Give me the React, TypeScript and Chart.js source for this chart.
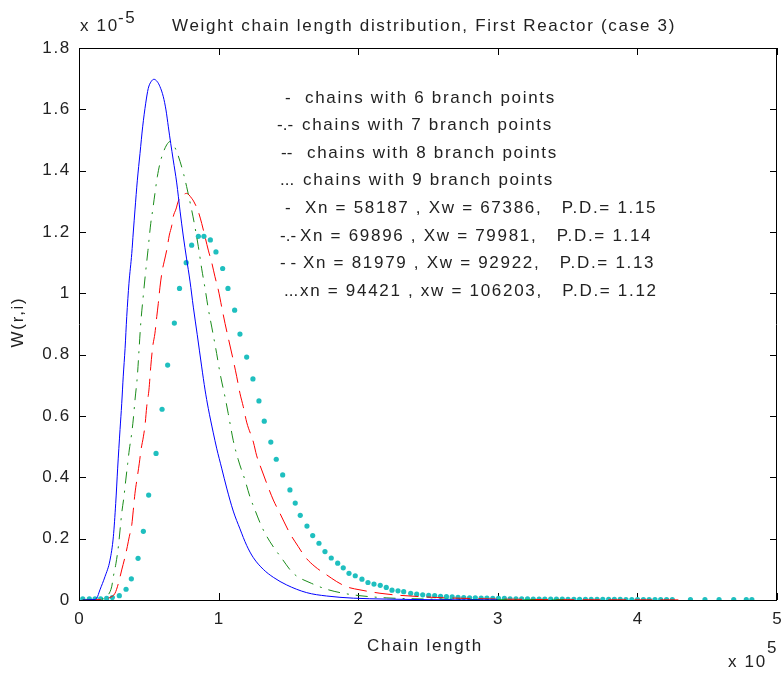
import React, { useEffect, useRef } from "react";
import { Chart, registerables } from "chart.js";

Chart.register(...registerables);

// X in units of 1e5 (chain length), Y in units of 1e-5 (W(r,i))
const series6: [number, number][] = [
  [0.027, 0], [0.1, 0.001], [0.127, 0.006], [0.15, 0.033], [0.186, 0.076], [0.222, 0.13],
  [0.246, 0.206], [0.263, 0.315], [0.277, 0.43], [0.294, 0.556], [0.306, 0.64], [0.317, 0.73],
  [0.33, 0.82], [0.342, 0.924], [0.358, 1.033], [0.378, 1.13], [0.389, 1.2], [0.401, 1.272],
  [0.418, 1.369], [0.437, 1.456], [0.456, 1.543], [0.478, 1.62], [0.496, 1.668], [0.516, 1.69],
  [0.537, 1.698], [0.561, 1.69], [0.58, 1.674], [0.604, 1.641], [0.623, 1.598], [0.64, 1.543],
  [0.657, 1.489], [0.675, 1.435], [0.7, 1.36], [0.724, 1.268], [0.747, 1.187], [0.77, 1.115],
  [0.795, 1.04], [0.819, 0.955], [0.847, 0.865], [0.879, 0.76], [0.903, 0.685], [0.926, 0.625],
  [0.962, 0.545], [0.986, 0.495], [1.022, 0.43], [1.058, 0.365], [1.105, 0.29], [1.153, 0.232],
  [1.201, 0.178], [1.249, 0.138], [1.32, 0.1], [1.392, 0.074], [1.488, 0.049], [1.631, 0.024],
  [1.774, 0.013], [1.965, 0.006], [2.2, 0.003], [2.5, 0.001], [3.0, 0.0003],
];

const series7: [number, number][] = [
  [0.027, 0], [0.15, 0.002], [0.2, 0.012], [0.234, 0.043], [0.246, 0.076], [0.265, 0.12],
  [0.282, 0.174], [0.294, 0.228], [0.306, 0.283], [0.322, 0.337], [0.335, 0.391], [0.349, 0.446],
  [0.36, 0.489], [0.378, 0.545], [0.389, 0.59], [0.401, 0.652], [0.418, 0.73], [0.43, 0.815],
  [0.442, 0.9], [0.461, 0.995], [0.475, 1.06], [0.494, 1.14], [0.514, 1.228], [0.528, 1.272],
  [0.544, 1.326], [0.561, 1.38], [0.58, 1.424], [0.6, 1.455], [0.628, 1.484], [0.652, 1.495],
  [0.676, 1.485], [0.7, 1.462], [0.724, 1.43], [0.749, 1.39], [0.771, 1.348], [0.807, 1.272],
  [0.826, 1.228], [0.855, 1.152], [0.879, 1.08], [0.903, 1.016], [0.926, 0.95], [0.951, 0.89],
  [0.986, 0.804], [1.01, 0.74], [1.046, 0.662], [1.069, 0.608], [1.105, 0.52], [1.141, 0.457],
  [1.189, 0.391], [1.225, 0.336], [1.261, 0.293], [1.309, 0.239], [1.368, 0.19], [1.452, 0.136],
  [1.535, 0.087], [1.667, 0.054], [1.774, 0.035], [1.893, 0.022], [2.013, 0.014], [2.2, 0.007],
  [2.4, 0.004], [2.7, 0.002], [3.0, 0.001], [3.5, 0.0003],
];

const series8: [number, number][] = [
  [0.027, 0], [0.17, 0.002], [0.22, 0.008], [0.258, 0.022], [0.282, 0.054], [0.306, 0.098],
  [0.33, 0.141], [0.346, 0.174], [0.36, 0.206], [0.378, 0.245], [0.389, 0.293], [0.401, 0.348],
  [0.418, 0.402], [0.432, 0.446], [0.444, 0.489], [0.461, 0.532], [0.473, 0.57], [0.485, 0.63],
  [0.501, 0.685], [0.514, 0.761], [0.528, 0.826], [0.544, 0.87], [0.557, 0.924], [0.568, 0.967],
  [0.58, 1.02], [0.597, 1.076], [0.611, 1.105], [0.628, 1.14], [0.647, 1.19], [0.664, 1.22],
  [0.675, 1.25], [0.695, 1.275], [0.711, 1.3], [0.736, 1.316], [0.771, 1.326], [0.807, 1.31],
  [0.824, 1.298], [0.855, 1.266], [0.879, 1.228], [0.903, 1.184], [0.926, 1.141], [0.951, 1.1],
  [0.974, 1.054], [0.998, 1.011], [1.022, 0.956], [1.046, 0.902], [1.069, 0.855], [1.105, 0.782],
  [1.13, 0.728], [1.153, 0.674], [1.177, 0.63], [1.201, 0.58], [1.249, 0.515], [1.273, 0.47],
  [1.309, 0.424], [1.345, 0.38], [1.392, 0.326], [1.44, 0.282], [1.511, 0.217], [1.571, 0.174],
  [1.619, 0.141], [1.69, 0.109], [1.774, 0.082], [1.846, 0.06], [1.918, 0.043], [2.013, 0.033],
  [2.156, 0.022], [2.276, 0.016], [2.443, 0.011], [2.562, 0.008], [2.8, 0.005], [3.0, 0.003],
  [3.5, 0.001], [4.0, 0.0005], [4.34, 0.0003],
];

const series9: [number, number][] = [
  [0.027, 0.004], [0.074, 0.004], [0.115, 0.004], [0.155, 0.004], [0.198, 0.005], [0.239, 0.008],
  [0.289, 0.014], [0.337, 0.035], [0.375, 0.069], [0.423, 0.136], [0.461, 0.224], [0.499, 0.342],
  [0.552, 0.478], [0.595, 0.622], [0.635, 0.766], [0.683, 0.903], [0.72, 1.016], [0.768, 1.1],
  [0.807, 1.157], [0.855, 1.186], [0.895, 1.186], [0.941, 1.174], [0.981, 1.135], [1.029, 1.081],
  [1.067, 1.016], [1.115, 0.945], [1.153, 0.867], [1.201, 0.792], [1.246, 0.721], [1.289, 0.649],
  [1.327, 0.583], [1.374, 0.515], [1.413, 0.459], [1.459, 0.408], [1.511, 0.359], [1.549, 0.316],
  [1.585, 0.276], [1.633, 0.241], [1.674, 0.21], [1.719, 0.185], [1.762, 0.158], [1.807, 0.137],
  [1.853, 0.12], [1.893, 0.105], [1.934, 0.087], [1.979, 0.079], [2.027, 0.068], [2.07, 0.057],
  [2.113, 0.052], [2.158, 0.048], [2.201, 0.041], [2.242, 0.032], [2.285, 0.03], [2.326, 0.027],
  [2.376, 0.022], [2.419, 0.019], [2.462, 0.017], [2.505, 0.015], [2.548, 0.014], [2.59, 0.012],
  [2.632, 0.011], [2.673, 0.01], [2.715, 0.009], [2.756, 0.008], [2.798, 0.007], [2.839, 0.007],
  [2.881, 0.006], [2.922, 0.006], [2.964, 0.005], [3.005, 0.005], [3.047, 0.005], [3.088, 0.004],
  [3.13, 0.004], [3.171, 0.004], [3.213, 0.004], [3.254, 0.003], [3.296, 0.003], [3.337, 0.003],
  [3.379, 0.003], [3.42, 0.003], [3.462, 0.003], [3.503, 0.002], [3.545, 0.002], [3.586, 0.002],
  [3.628, 0.002], [3.669, 0.002], [3.711, 0.002], [3.752, 0.002], [3.794, 0.002], [3.835, 0.002],
  [3.877, 0.002], [3.918, 0.001], [3.96, 0.001], [4.001, 0.001], [4.043, 0.001], [4.084, 0.001],
  [4.126, 0.001], [4.167, 0.001], [4.209, 0.001], [4.25, 0.001], [4.38, 0.001], [4.484, 0.001],
  [4.585, 0.001], [4.69, 0.001], [4.78, 0.001], [4.82, 0.001],
];

const xTickValues = [0, 1, 2, 3, 4, 5];
const xTickLabels = ["0", "1", "2", "3", "4", "5"];
const yTickValues = [0, 0.2, 0.4, 0.6, 0.8, 1.0, 1.2, 1.4, 1.6, 1.8];
const yTickLabels = ["0", "0.2", "0.4", "0.6", "0.8", "1", "1.2", "1.4", "1.6", "1.8"];

const titleText = "Weight chain length distribution, First Reactor (case 3)";
const xAxisTitle = "Chain length";
const yAxisTitle = "W(r,i)";
const legendPrefixes = ["-", "-.-", "--", "...", "-", "-.-", "- -", "..."];
const legendTexts = [
  "chains with 6 branch points",
  "chains with 7 branch points",
  "chains with 8 branch points",
  "chains with 9 branch points",
  "Xn = 58187 , Xw = 67386,   P.D.= 1.15",
  "Xn = 69896 , Xw = 79981,   P.D.= 1.14",
  "Xn = 81979 , Xw = 92922,   P.D.= 1.13",
  "xn = 94421 , xw = 106203,   P.D.= 1.12",
];

// layout (pixels)
const legendPrefixX = [285, 277, 281, 280, 285, 280, 280, 284];
const legendTextX = [305, 302, 307, 303, 305, 300, 303, 300];
const legendBaselineY = [103, 130, 158, 185, 213, 241, 268, 296];

const FONT_FAMILY = '"Liberation Sans", Arial, Helvetica, sans-serif';
const FONT_SIZE = 17;
const LETTER_SPACING = 1.7;
const TEXT_COLOR = "#222222";

function drawText(
  ctx: CanvasRenderingContext2D,
  s: string,
  x: number,
  y: number,
  align: CanvasTextAlign = "left",
  baseline: CanvasTextBaseline = "alphabetic",
  spacing: number = LETTER_SPACING
) {
  ctx.save();
  ctx.font = `${FONT_SIZE}px ${FONT_FAMILY}`;
  (ctx as any).letterSpacing = `${spacing}px`;
  ctx.fillStyle = TEXT_COLOR;
  ctx.textAlign = align;
  ctx.textBaseline = baseline;
  ctx.fillText(s, x, y);
  ctx.restore();
}

const framePlugin = {
  id: "matlabFrame",
  beforeDatasetsDraw(chart: any) {
    const { ctx, chartArea } = chart;
    const { left, right, top, bottom } = chartArea;
    const xs = chart.scales.x;
    const ys = chart.scales.y;
    ctx.save();
    ctx.strokeStyle = "#000";
    ctx.lineWidth = 1;
    ctx.beginPath();
    ctx.rect(Math.round(left) + 0.5, Math.round(top) + 0.5, Math.round(right - left) - 1, Math.round(bottom - top));
    const tl = 7;
    xTickValues.forEach((v) => {
      const px = Math.round(xs.getPixelForValue(v)) + 0.5;
      ctx.moveTo(px, bottom);
      ctx.lineTo(px, bottom - tl);
      ctx.moveTo(px, top);
      ctx.lineTo(px, top + tl);
    });
    yTickValues.forEach((v) => {
      const py = Math.round(ys.getPixelForValue(v)) + 0.5;
      ctx.moveTo(left, py);
      ctx.lineTo(left + tl, py);
      ctx.moveTo(right, py);
      ctx.lineTo(right - tl, py);
    });
    ctx.stroke();
    ctx.restore();
  },
  afterDraw(chart: any) {
    const { ctx } = chart;
    const xs = chart.scales.x;
    const ys = chart.scales.y;
    xTickValues.forEach((v, i) => {
      drawText(ctx, xTickLabels[i], xs.getPixelForValue(v) + LETTER_SPACING / 2, 619, "center", "middle");
    });
    yTickValues.forEach((v, i) => {
      drawText(ctx, yTickLabels[i], 71, ys.getPixelForValue(v), "right", "middle");
    });
    drawText(ctx, titleText, 424, 31, "center", "alphabetic");
    drawText(ctx, "x 10", 80, 31);
    drawText(ctx, "-5", 118, 23);
    drawText(ctx, "x 10", 728, 667);
    drawText(ctx, "5", 767, 653);
    drawText(ctx, xAxisTitle, 425, 651, "center", "alphabetic");
    ctx.save();
    ctx.translate(18, 322);
    ctx.rotate(-Math.PI / 2);
    drawText(ctx, yAxisTitle, 0, 0, "center", "middle");
    ctx.restore();
    legendTexts.forEach((t, i) => {
      drawText(ctx, legendPrefixes[i], legendPrefixX[i], legendBaselineY[i], "left", "alphabetic", 0);
      drawText(ctx, t, legendTextX[i], legendBaselineY[i]);
    });
  },
};

const toPoints = (arr: [number, number][]) => arr.map(([x, y]) => ({ x, y }));

export default function App() {
  const canvasRef = useRef<HTMLCanvasElement | null>(null);

  useEffect(() => {
    const canvas = canvasRef.current;
    if (!canvas) return;
    const chart = new Chart(canvas, {
      type: "line",
      data: {
        datasets: [
          {
            label: "6 branch points",
            data: toPoints(series6),
            borderColor: "#0000ff",
            borderWidth: 1,
            pointRadius: 0,
            cubicInterpolationMode: "monotone",
          },
          {
            label: "7 branch points",
            data: toPoints(series7),
            borderColor: "#1a8c1a",
            borderWidth: 1,
            borderDash: [12, 7, 2, 7],
            pointRadius: 0,
            cubicInterpolationMode: "monotone",
          },
          {
            label: "8 branch points",
            data: toPoints(series8),
            borderColor: "#ff0000",
            borderWidth: 1,
            borderDash: [18, 8],
            pointRadius: 0,
            cubicInterpolationMode: "monotone",
          },
          {
            label: "9 branch points",
            data: toPoints(series9),
            showLine: false,
            borderColor: "#1fbfbf",
            backgroundColor: "#1fbfbf",
            pointRadius: 2.6,
            pointBorderWidth: 0,
            pointBackgroundColor: "#1fbfbf",
          },
        ],
      } as any,
      options: {
        responsive: false,
        animation: false,
        events: [],
        layout: { padding: { left: 0, right: 7, top: 48, bottom: 0 } },
        scales: {
          x: {
            type: "linear",
            min: 0,
            max: 5,
            ticks: { display: false },
            grid: { display: false, drawTicks: false },
            border: { display: false },
            afterFit: (s: any) => {
              s.height = 75;
            },
          },
          y: {
            type: "linear",
            min: 0,
            max: 1.8,
            ticks: { display: false, stepSize: 0.2 },
            grid: { display: false, drawTicks: false },
            border: { display: false },
            afterFit: (s: any) => {
              s.width = 79;
            },
          },
        },
        plugins: {
          legend: { display: false },
          tooltip: { enabled: false },
          title: { display: false },
        },
      } as any,
      plugins: [framePlugin],
    });
    return () => chart.destroy();
  }, []);

  return (
    <div style={{ position: "absolute", left: 0, top: 0, width: 784, height: 675, background: "#fff" }}>
      <canvas ref={canvasRef} width={784} height={675} style={{ display: "block" }} />
    </div>
  );
}
